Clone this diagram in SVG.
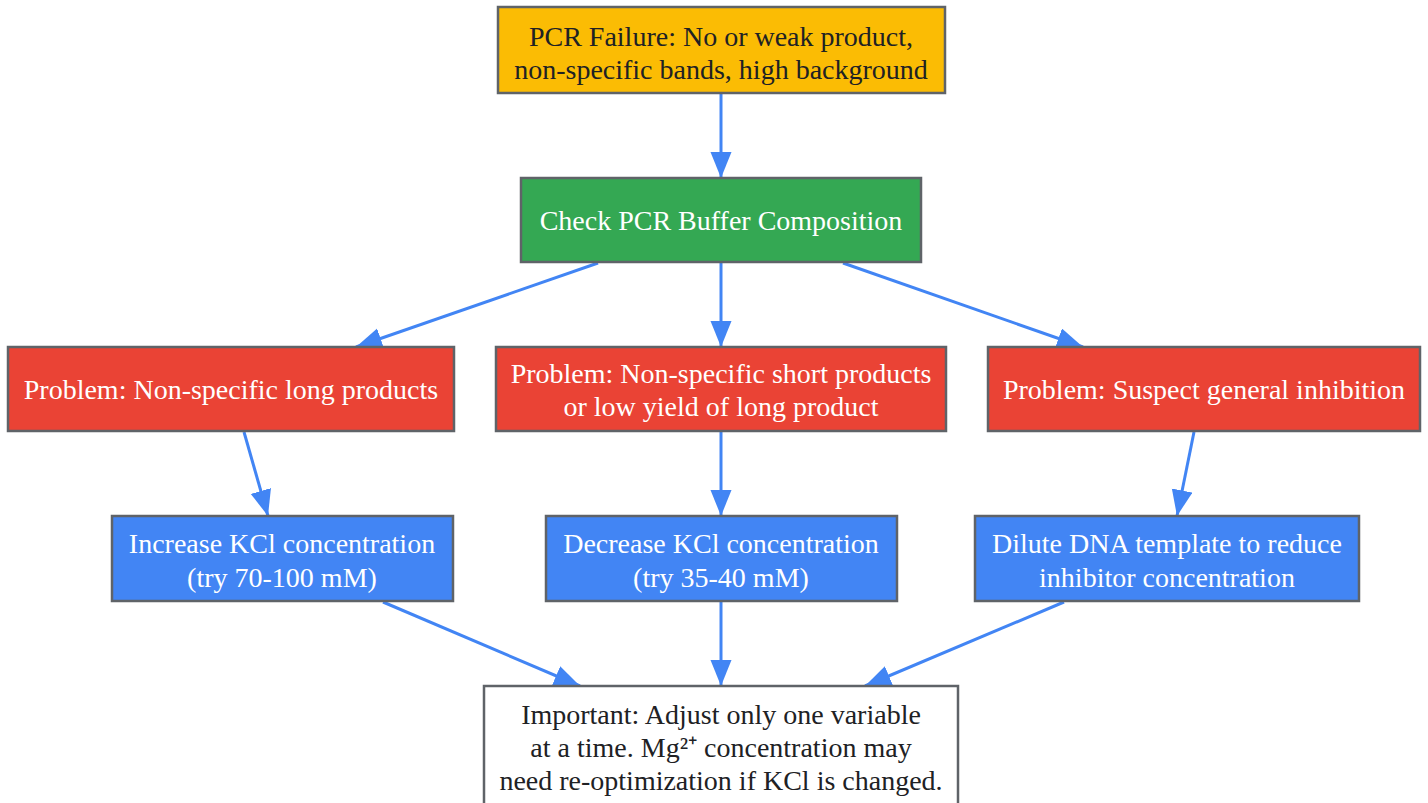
<svg xmlns="http://www.w3.org/2000/svg" width="1428" height="803" viewBox="0 0 1428 803">
<style>
.n{stroke:#5f6368;stroke-width:2.5}
.t{font-family:"Liberation Serif","Times New Roman",serif;font-size:28px;text-anchor:middle;dominant-baseline:central}
.d{fill:#202124}
.w{fill:#ffffff}
.e{stroke:#4285F4;stroke-width:3;fill:none;marker-end:url(#ah)}
</style>
<defs>
<marker id="ah" markerUnits="userSpaceOnUse" markerWidth="28" markerHeight="22" refX="26" refY="10.5" orient="auto">
<path d="M0,0 L26,10.5 L0,21 Z" fill="#4285F4"/>
</marker>
</defs>
<rect width="1428" height="803" fill="#ffffff"/>
<g id="connectors">
<path class="e" d="M721,93 L721,178"/>
<path class="e" d="M598,263 L356,347"/>
<path class="e" d="M721,263 L721,347"/>
<path class="e" d="M843,263 L1083,347"/>
<path class="e" d="M244,432 L268,516"/>
<path class="e" d="M721,432 L721,516"/>
<path class="e" d="M1194,432 L1177,516"/>
<path class="e" d="M383,602 L580,686"/>
<path class="e" d="M721,602 L721,686"/>
<path class="e" d="M1064,602 L865,686"/>
</g>
<g id="n_failure">
<rect class="n" x="498" y="7" width="447" height="86" fill="#FBBC04"/>
<text class="t d" x="721" y="36">PCR Failure: No or weak product,</text>
<text class="t d" x="721" y="69">non-specific bands, high background</text>
</g>
<g id="n_check">
<rect class="n" x="521" y="178" width="400" height="84" fill="#34A853"/>
<text class="t w" x="721" y="220">Check PCR Buffer Composition</text>
</g>
<g id="n_p1">
<rect class="n" x="8" y="347" width="446" height="84" fill="#EA4335"/>
<text class="t w" x="231" y="389">Problem: Non-specific long products</text>
</g>
<g id="n_p2">
<rect class="n" x="496" y="347" width="450" height="84" fill="#EA4335"/>
<text class="t w" x="721" y="373">Problem: Non-specific short products</text>
<text class="t w" x="721" y="406">or low yield of long product</text>
</g>
<g id="n_p3">
<rect class="n" x="988" y="347" width="432" height="84" fill="#EA4335"/>
<text class="t w" x="1204" y="389">Problem: Suspect general inhibition</text>
</g>
<g id="n_inc">
<rect class="n" x="112" y="516" width="341" height="85" fill="#4285F4"/>
<text class="t w" x="282" y="543">Increase KCl concentration</text>
<text class="t w" x="282" y="577">(try 70-100 mM)</text>
</g>
<g id="n_dec">
<rect class="n" x="546" y="516" width="351" height="85" fill="#4285F4"/>
<text class="t w" x="721" y="543">Decrease KCl concentration</text>
<text class="t w" x="721" y="577">(try 35-40 mM)</text>
</g>
<g id="n_dil">
<rect class="n" x="975" y="516" width="384" height="85" fill="#4285F4"/>
<text class="t w" x="1167" y="543">Dilute DNA template to reduce</text>
<text class="t w" x="1167" y="577">inhibitor concentration</text>
</g>
<g id="n_imp">
<rect class="n" x="484" y="686" width="474" height="130" fill="#ffffff"/>
<text class="t d" x="721" y="714">Important: Adjust only one variable</text>
<text class="t d" x="721" y="747">at a time. Mg²⁺ concentration may</text>
<text class="t d" x="721" y="780">need re-optimization if KCl is changed.</text>
</g>
</svg>
